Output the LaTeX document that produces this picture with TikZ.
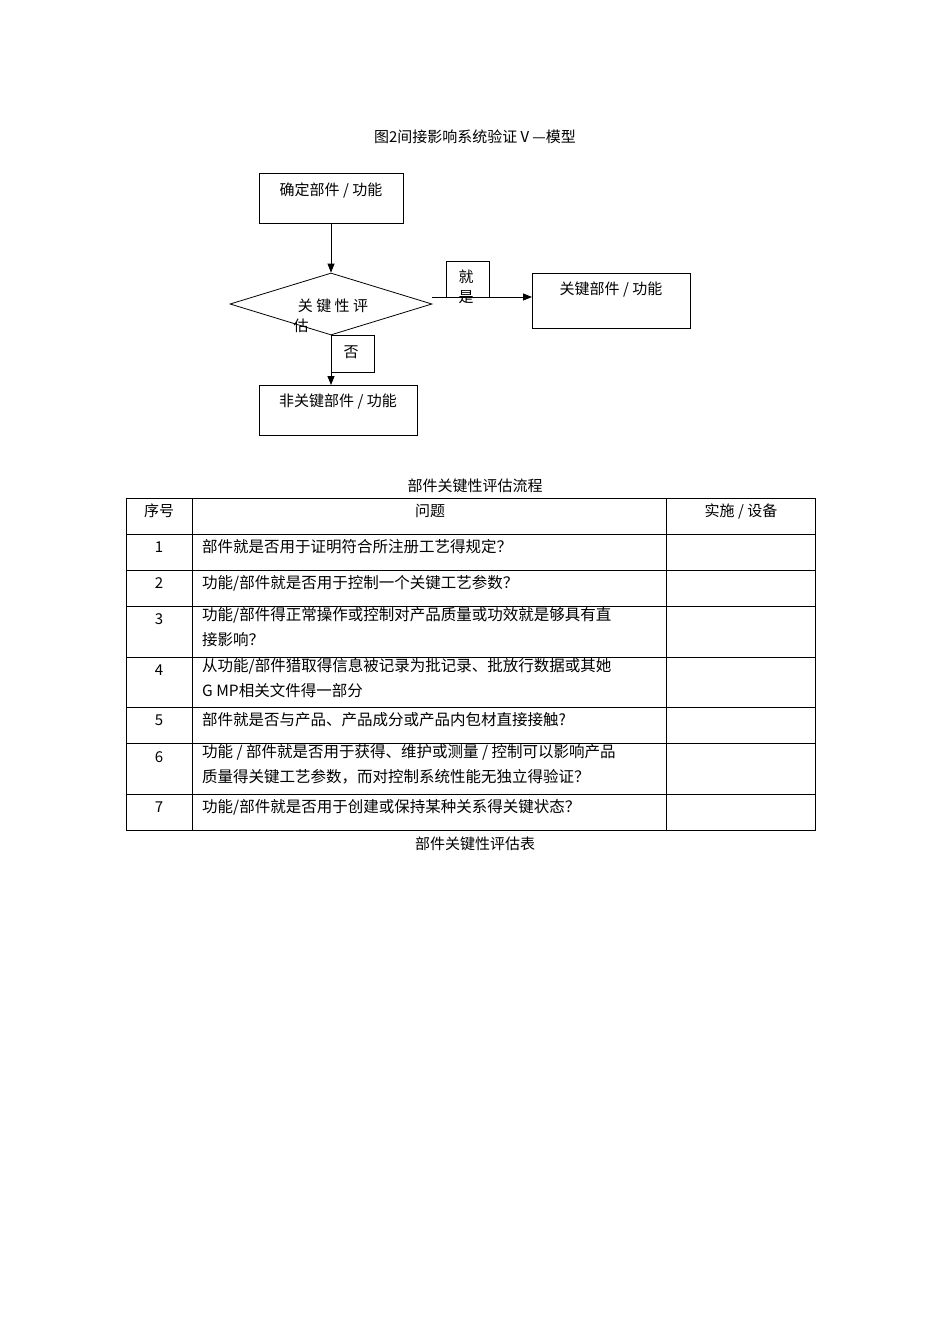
\documentclass[tikz,border=0pt]{standalone}
\usepackage{fontspec}
\setmainfont{Noto Sans CJK SC}
\usetikzlibrary{arrows.meta,shapes.geometric}
\begin{document}
\begin{tikzpicture}[x=1pt,y=-1pt,
 every node/.style={inner sep=0pt,font=\fontsize{15}{25}\selectfont},
 box/.style={draw,line width=0.8pt},
 arr/.style={draw,line width=0.8pt,-{Triangle[length=9pt,width=7pt]}},
 cell/.style={anchor=west,font=\fontsize{15.5}{25}\selectfont},
 ml/.style={anchor=north west,align=left,font=\fontsize{15.5}{25.5}\selectfont}]
\useasboundingbox (0,0) rectangle (950,1344);
\node (title) at (475,137) {图2间接影响系统验证Ⅴ—模型};
% flowchart
\draw[box] (259,173) rectangle (403,223);
\node (b1) at (331,190) {确定部件 / 功能};
\coordinate (b1b) at (331,223);
\node[draw,line width=0.8pt,diamond,aspect=3.26,minimum width=202pt,minimum height=62pt,inner sep=0pt] (d) at (331,304) {};
\node (dt1) at (333,306) {关 键 性 评};
\node (dt2) at (301,326) {估};
\draw[arr] (b1b) -- (d.north);
\draw[box] (532,273) rectangle (690,328);
\node (b2) at (611,290) {关键部件 / 功能};
\coordinate (b2l) at (532,297);
\coordinate (de) at (432,297);
\draw[box] (446,261) -- (446,297) (446,261) -- (489,261) -- (489,297);
\draw[arr] (de) -- (b2l);
\node (yes1) at (466,277) {就};
\node (yes2) at (466,297) {是};
\draw[box] (331,335) -- (374,335) -- (374,372) -- (331,372);
\node (no) at (351,352) {否};
\draw[box] (259,385) rectangle (417,435);
\node (b3) at (338,402) {非关键部件 / 功能};
\coordinate (b3t) at (331,385);
\draw[arr] (d.south) -- (b3t);
% table
\node (cap1) at (475,486) {部件关键性评估流程};
\draw[line width=0.6pt] (126,498) rectangle (815,830);
\foreach \y in {534,570,606,657,707,743,794} \draw[line width=0.6pt] (126,\y) -- (815,\y);
\foreach \x in {192,666} \draw[line width=0.6pt] (\x,498) -- (\x,830);
\node (h1) at (159,511) {序号};
\node (h2) at (430,511) {问题};
\node (h3) at (741,511) {实施 / 设备};
\foreach \n/\y in {1/547,2/583,3/619,4/670,5/720,6/757,7/807} \node (n\n) at (159,\y) {\n};
\node[cell] (q1) at (202,547) {部件就是否用于证明符合所注册工艺得规定？};
\node[cell] (q2) at (202,583) {功能/部件就是否用于控制一个关键工艺参数？};
\node[ml] (q3) at (202,607) {功能/部件得正常操作或控制对产品质量或功效就是够具有直\\接影响？};
\node[ml] (q4) at (202,658) {从功能/部件猎取得信息被记录为批记录、批放行数据或其她\\G MP相关文件得一部分};
\node[cell] (q5) at (202,720) {部件就是否与产品、产品成分或产品内包材直接接触?};
\node[ml] (q6) at (202,744) {功能 / 部件就是否用于获得、维护或测量 / 控制可以影响产品\\质量得关键工艺参数，而对控制系统性能无独立得验证？};
\node[cell] (q7) at (202,807) {功能/部件就是否用于创建或保持某种关系得关键状态？};
\node (cap2) at (475,844) {部件关键性评估表};
\end{tikzpicture}
\end{document}
